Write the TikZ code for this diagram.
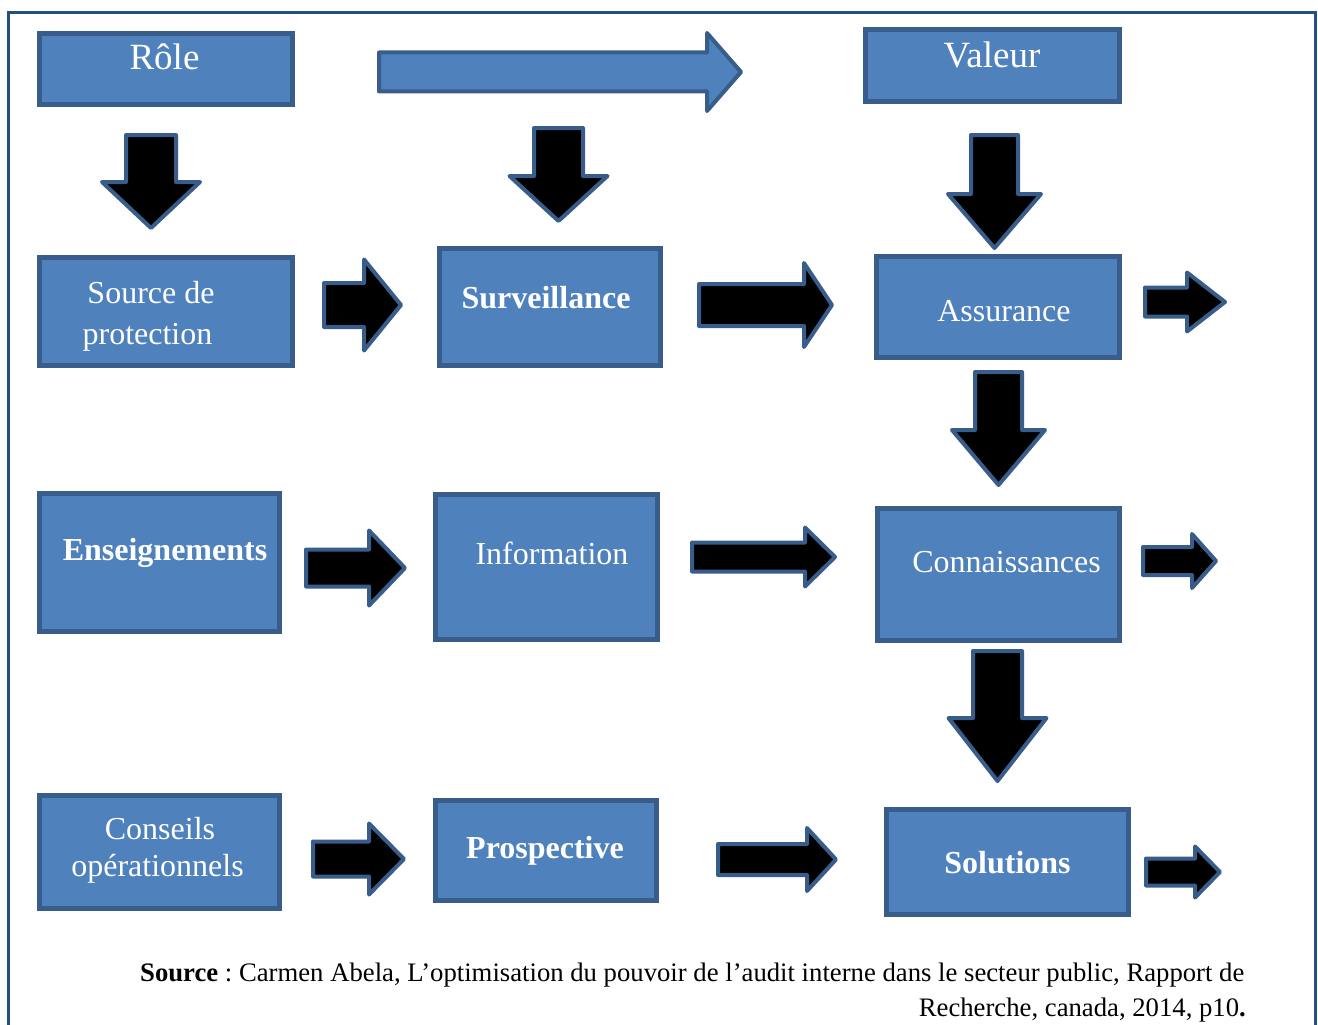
\documentclass[tikz,border=0pt]{standalone}
\usepackage{fontspec}
\setmainfont{Liberation Serif}
\frenchspacing
\definecolor{boxfill}{RGB}{79,129,189}
\definecolor{boxline}{RGB}{56,93,138}
\definecolor{framecol}{RGB}{36,80,128}
% right block arrow: l, headbase, tip, ymid, shaft half, head half (outer measures)
\newcommand\rblock[7][blk]{%
  \draw[#1] ({#2+2},{#5-#6+2}) -- ({#3+2},{#5-#6+2}) -- ({#3+2},{#5-#7+2}) -- ({#4-2},{#5})
    -- ({#3+2},{#5+#7-2}) -- ({#3+2},{#5+#6-2}) -- ({#2+2},{#5+#6-2}) -- cycle;}
% down block arrow: xmid, shaft half, top, headbase, tip, head half
\newcommand\dblock[6]{%
  \draw[blk] ({#1-#2+2},{#3+2}) -- ({#1+#2-2},{#3+2}) -- ({#1+#2-2},{#4+2}) -- ({#1+#6-2},{#4+2})
    -- ({#1},{#5-2}) -- ({#1-#6+2},{#4+2}) -- ({#1-#2+2},{#4+2}) -- cycle;}
% box: name, x1, y1, x2, y2 (outer)
\newcommand\mybox[5]{%
  \node[box, minimum width={#4-#2-5}, minimum height={#5-#3-5}] (#1) at ({(#2+#4)/2},{(#3+#5)/2}) {};}
\begin{document}
\begin{tikzpicture}[x=1pt,y=-1pt,
  box/.style={draw=boxline, line width=5pt, fill=boxfill, rectangle, inner sep=0pt, outer sep=0pt},
  lbl/.style={text=white, inner sep=0pt, anchor=base},
  big/.style={font=\fontsize{37}{44}\selectfont},
  mid/.style={font=\fontsize{32}{38}\selectfont},
  midb/.style={font=\fontsize{32}{38}\selectfont\bfseries},
  srcfont/.style={font=\fontsize{26.7}{32}\selectfont},
  blk/.style={draw=boxline, line width=4pt, fill=black, line join=round},
  blu/.style={draw=boxline, line width=4pt, fill=boxfill, line join=round}]
\useasboundingbox (0,0) rectangle (1318,1025);
\fill[white] (0,0) rectangle (1318,1025);
\draw[framecol, line width=3pt] (8.5,1035) -- (8.5,12.5) -- (1315.5,12.5) -- (1315.5,1035);

% boxes
\mybox{role}{37}{31}{295}{107}
\mybox{valeur}{863}{27}{1122}{104}
\mybox{source}{37}{255}{295}{368}
\mybox{surv}{437}{246}{663}{368}
\mybox{assur}{874}{254}{1122}{360}
\mybox{ens}{37}{491}{282}{634}
\mybox{info}{433}{492}{660}{642}
\mybox{conn}{875}{506}{1122}{643}
\mybox{cons}{37}{793}{282}{911}
\mybox{prosp}{433}{798}{659}{903}
\mybox{sol}{884}{807}{1131}{917}

% labels
\node[lbl, big] (roleT) at (164.5,70) {Rôle};
\node[lbl, big] (valeurT) at (992,67) {Valeur};
\node[lbl, mid] (sourceT1) at (151,303) {Source de};
\node[lbl, mid] (sourceT2) at (147.5,344) {protection};
\node[lbl, midb] (survT) at (546,308) {Surveillance};
\node[lbl, mid] (assurT) at (1004,321) {Assurance};
\node[lbl, midb] (ensT) at (165,560) {Enseignements};
\node[lbl, mid] (infoT) at (552,564) {Information};
\node[lbl, mid] (connT) at (1006.5,572) {Connaissances};
\node[lbl, mid] (consT1) at (160,839) {Conseils};
\node[lbl, mid] (consT2) at (157.5,876) {opérationnels};
\node[lbl, midb] (prospT) at (545,858) {Prospective};
\node[lbl, midb] (solT) at (1007.5,873) {Solutions};

% top blue arrow
\rblock[blu]{377}{705}{743}{72}{21.5}{41}

% right arrows
\rblock{322}{362}{403}{305}{24}{47.5}
\rblock{697}{802}{834}{305}{23}{44}
\rblock{1143}{1185}{1227}{302}{16.5}{31.5}
\rblock{304}{367}{407}{568}{20.5}{39.5}
\rblock{690}{803}{837}{557}{16.5}{31.5}
\rblock{1141}{1190}{1218}{561}{16}{29}
\rblock{311}{367}{406}{859}{19.5}{37.5}
\rblock{716}{805}{838}{859.5}{17.5}{33.5}
\rblock{1144}{1193}{1222}{872}{15.5}{27.5}

% down arrows
\dblock{151}{27}{133}{180}{230}{51}
\dblock{558.5}{26.5}{126}{174}{223}{51}
\dblock{994.5}{25.5}{133}{192}{250}{48.5}
\dblock{998.5}{25.5}{370}{428}{487}{48.5}
\dblock{997.5}{26.5}{649}{716}{783}{51}

% source
\node[anchor=base west, inner sep=0pt, srcfont] (src1) at (140,981)
  {\textbf{Source} : Carmen Abela, L’optimisation du pouvoir de l’audit interne dans le secteur public, Rapport de};
\node[anchor=base east, inner sep=0pt, srcfont] (src2) at (1246,1016)
  {Recherche, canada, 2014, p10\textbf{.}};
\end{tikzpicture}
\end{document}
